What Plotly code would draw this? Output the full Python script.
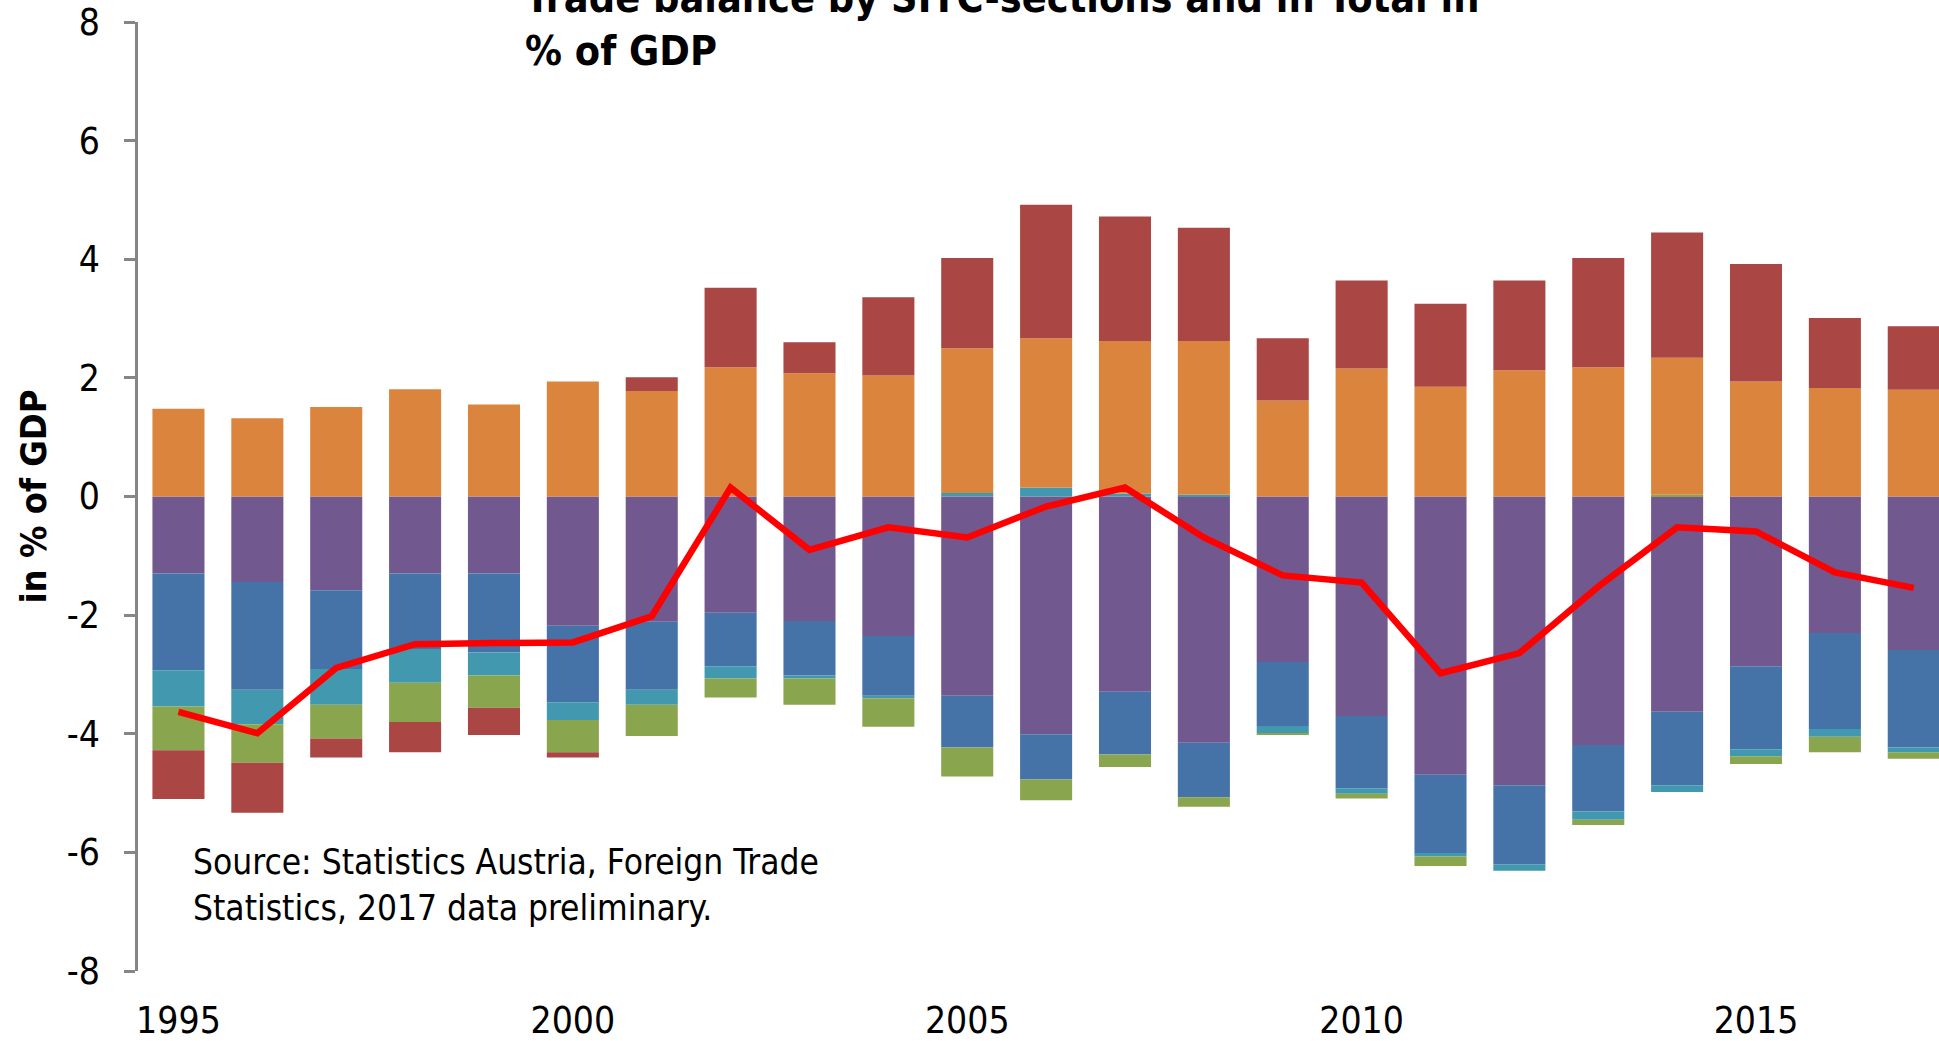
import plotly.graph_objects as go

years = list(range(1995, 2018))

# Stacked SITC-section contributions (% of GDP)
purple = [-1.30, -1.44, -1.58, -1.30, -1.30, -2.18, -2.11, -1.96, -2.10, -2.35, -3.36, -4.01,
          -3.29, -4.15, -2.79, -3.70, -4.69, -4.87, -4.19, -3.63, -2.86, -2.30, -2.59]
blue = [-1.63, -1.82, -1.33, -1.27, -1.33, -1.29, -1.15, -0.90, -0.92, -1.01, -0.87, -0.76,
        -1.06, -0.92, -1.08, -1.22, -1.32, -1.33, -1.12, -1.24, -1.40, -1.62, -1.64]
teal = [-0.61, -0.58, -0.60, -0.57, -0.39, -0.30, -0.25, -0.21, -0.05, -0.04, 0.06, 0.15,
        0.05, 0.03, -0.12, -0.09, -0.06, -0.11, -0.14, -0.11, -0.12, -0.13, -0.08]
green = [-0.74, -0.65, -0.57, -0.66, -0.54, -0.54, -0.53, -0.32, -0.44, -0.48, -0.49, -0.35,
         -0.21, -0.16, -0.02, -0.08, -0.16, 0.0, -0.09, 0.03, -0.13, -0.26, -0.11]
orange = [1.48, 1.32, 1.51, 1.81, 1.55, 1.94, 1.78, 2.18, 2.08, 2.04, 2.44, 2.52,
          2.57, 2.59, 1.62, 2.16, 1.85, 2.13, 2.18, 2.31, 1.94, 1.83, 1.80]
red = [-0.82, -0.84, -0.32, -0.51, -0.46, -0.09, 0.23, 1.34, 0.52, 1.32, 1.52, 2.25,
       2.10, 1.91, 1.05, 1.48, 1.40, 1.51, 1.84, 2.11, 1.98, 1.18, 1.07]
total = [-3.63, -3.99, -2.89, -2.49, -2.47, -2.46, -2.02, 0.15, -0.90, -0.52, -0.69, -0.17,
         0.15, -0.69, -1.33, -1.45, -2.98, -2.64, -1.52, -0.52, -0.59, -1.28, -1.54]

x_label_years = [1995, 2000, 2005, 2010, 2015]
y_tick_vals = [-8, -6, -4, -2, 0, 2, 4, 6, 8]
y_tick_text = ["-8", "-6", "-4", "-2", "0", "2", "4", "6", "8"]

FONT = "DejaVu Sans Condensed, Lato, sans-serif"
GRAY = "#868686"

series = [
    ("Section A", purple, "#71588F"),
    ("Section B", blue, "#4572A7"),
    ("Section C", teal, "#4198AF"),
    ("Section D", green, "#89A54E"),
    ("Section E", orange, "#DB843D"),
    ("Section F", red, "#AA4643"),
]

fig = go.Figure()
for name, vals, col in series:
    fig.add_bar(x=years, y=vals, name=name, marker=dict(color=col, line=dict(width=0)))
fig.add_scatter(x=years, y=total, name="Total", mode="lines",
                line=dict(color="#FF0000", width=6.5))

xr = [1994.487, 2017.32]
fig.update_layout(
    width=1939, height=1041,
    margin=dict(l=137.5, r=0, t=22, b=70),
    barmode="relative", bargap=0.34,
    plot_bgcolor="white", paper_bgcolor="white",
    showlegend=False,
    font=dict(family=FONT, color="black", size=35),
    xaxis=dict(range=xr, tickvals=x_label_years, ticks="", showline=False, showgrid=False,
               zeroline=False, tickfont=dict(size=37), automargin=False,
               ticklabelstandoff=24),
    xaxis2=dict(range=xr, overlaying="x", anchor="free", position=0.5,
                tickvals=[y + 0.5 for y in years[:-1]], ticks="outside", ticklen=12,
                tickwidth=2.5, tickcolor=GRAY, showline=True, linecolor=GRAY, linewidth=2.5,
                showticklabels=False, showgrid=False, zeroline=False, automargin=False),
    yaxis=dict(range=[-8, 8], tickvals=y_tick_vals, ticktext=y_tick_text, ticks="outside",
               ticklen=11, tickwidth=2.5, tickcolor=GRAY, showline=True, linecolor=GRAY,
               linewidth=2.5, showgrid=False, zeroline=False, tickfont=dict(size=37),
               automargin=False, ticklabelstandoff=17,
               title=dict(text="<b>in % of GDP</b>", font=dict(size=36), standoff=10)),
)
fig.add_annotation(xref="paper", yref="paper", x=0.2135, y=0.9975, xanchor="left",
                   yanchor="middle", align="left", showarrow=False,
                   text="<b>Trade balance by SITC-sections and in Total in<br>% of GDP</b>",
                   font=dict(size=41))
fig.add_annotation(xref="paper", yref="paper", x=0.0294, y=0.0906, xanchor="left",
                   yanchor="middle", align="left", showarrow=False,
                   text="Source: Statistics Austria, Foreign Trade<br>Statistics, 2017 data preliminary.",
                   font=dict(size=35))
fig.write_html("out.html", config={"displayModeBar": False},
               post_script="document.body.style.margin='0px';")
